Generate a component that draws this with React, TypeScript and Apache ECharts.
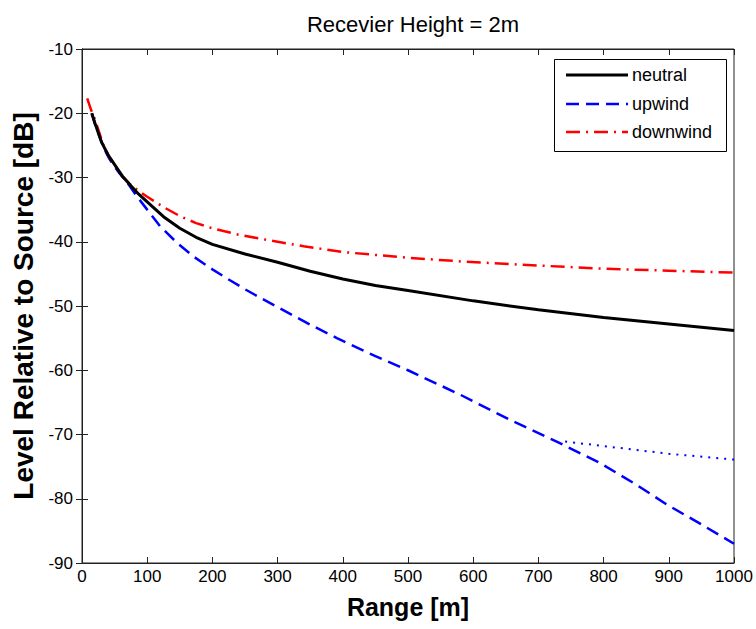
import React, { useEffect, useRef } from "react";
import * as echarts from "echarts";

const titleText = "Recevier Height = 2m";
const xTicks = [0, 100, 200, 300, 400, 500, 600, 700, 800, 900, 1000];
const yTicks = [-90, -80, -70, -60, -50, -40, -30, -20, -10];

const neutralRange = [15, 20, 30, 40, 50, 62, 75, 87, 100, 125, 150, 175, 200, 250, 300, 350, 400, 450, 500, 600, 700, 800, 900, 1000];
const neutralLevel = [-20, -21.6, -24.5, -26.5, -28, -29.8, -31.3, -32.6, -33.8, -36.1, -37.9, -39.3, -40.4, -41.9, -43.2, -44.6, -45.8, -46.8, -47.6, -49.2, -50.6, -51.8, -52.8, -53.8];

const upwindRange = [15, 20, 33, 42, 50, 58, 68, 84, 100, 120, 145, 171, 200, 227, 250, 273, 304, 350, 391, 450, 500, 580, 656, 728, 794, 850, 897, 950, 1000];
const upwindLevel = [-20, -21.7, -25.3, -27.1, -28.3, -29.4, -30.6, -32.9, -35, -37.6, -40.1, -42.3, -44.3, -46, -47.4, -48.7, -50.4, -52.9, -55, -57.8, -60, -63.8, -67.7, -71.1, -74.4, -77.8, -80.9, -84, -87];

const downwindRange = [8, 14, 20, 33, 42, 50, 60, 73, 87, 100, 125, 150, 175, 200, 240, 283, 340, 400, 500, 587, 700, 800, 900, 1000];
const downwindLevel = [-17.7, -19.5, -21, -25, -26.8, -28, -29.6, -31, -32.1, -33, -34.6, -36, -37.1, -37.9, -38.9, -39.7, -40.7, -41.6, -42.5, -43.1, -43.7, -44.2, -44.5, -44.8];

const upwindAltRange = [741, 800, 900, 1000];
const upwindAltLevel = [-71.1, -71.8, -73, -73.9];

const seriesNames = ["neutral", "upwind", "downwind"];
const seriesColors = ["#000000", "#0000ff", "#ff0000"];
const seriesWidths = [3, 2.5, 2.5];
const seriesDashes: (number[] | null)[] = [null, [13, 7], [14, 6, 2, 6]];

const zip = (xs: number[], ys: number[]) => xs.map((x, i) => [x, ys[i]]);

export default function App() {
  const ref = useRef<HTMLDivElement>(null);
  useEffect(() => {
    if (!ref.current) return;
    const chart = echarts.init(ref.current, undefined, { renderer: "svg" });
    const font = "'Liberation Sans', Arial, sans-serif";
    const tickLabel = { color: "#000", fontSize: 17, fontFamily: font };
    const axisColor = "#222";

    const legendX = 554, legendY = 59, legendW = 172, legendH = 92;
    const rowYs = [75, 104, 132];
    const legendGraphics: any[] = [
      {
        type: "rect",
        shape: { x: legendX + 0.5, y: legendY + 0.5, width: legendW, height: legendH },
        style: { fill: "#fff", stroke: "#000", lineWidth: 1 },
        z: 100,
      },
    ];
    seriesNames.forEach((name, i) => {
      legendGraphics.push({
        type: "line",
        shape: { x1: 566, y1: rowYs[i], x2: 628, y2: rowYs[i] },
        style: {
          stroke: seriesColors[i],
          lineWidth: seriesWidths[i],
          lineDash: seriesDashes[i] || undefined,
        },
        z: 101,
      });
      legendGraphics.push({
        type: "text",
        x: 632,
        y: rowYs[i],
        style: {
          text: name,
          fill: "#000",
          fontSize: 18,
          fontFamily: font,
          verticalAlign: "middle",
          align: "left",
        },
        z: 101,
      });
    });

    const mainSeries = seriesNames.map((name, i) => {
      const xs = [neutralRange, upwindRange, downwindRange][i];
      const ys = [neutralLevel, upwindLevel, downwindLevel][i];
      return {
        name,
        type: "line",
        data: zip(xs, ys),
        showSymbol: false,
        symbol: "none",
        color: seriesColors[i],
        lineStyle: { color: seriesColors[i], width: seriesWidths[i], type: seriesDashes[i] || "solid" },
        z: i === 0 ? 3 : 2,
      };
    });

    chart.setOption({
      animation: false,
      backgroundColor: "#fff",
      title: {
        text: titleText,
        left: 408,
        top: 8,
        textAlign: "center",
        textStyle: { fontSize: 22, fontWeight: "normal", color: "#000", fontFamily: font },
      },
      grid: { left: 82, right: 22, top: 49, bottom: 66, show: true, borderColor: axisColor, borderWidth: 1 },
      graphic: legendGraphics,
      xAxis: [
        {
          type: "value",
          min: 0,
          max: 1000,
          interval: 100,
          name: "Range [m]",
          nameLocation: "middle",
          nameGap: 31,
          nameTextStyle: { fontSize: 25, fontWeight: "bold", color: "#000", fontFamily: font },
          axisLine: { show: true, onZero: false, lineStyle: { color: axisColor } },
          axisTick: { show: true, inside: true, length: 6, lineStyle: { color: axisColor } },
          axisLabel: { ...tickLabel, margin: 5, formatter: (v: number) => String(v) },
          splitLine: { show: false },
        },
        {
          type: "value",
          position: "top",
          min: 0,
          max: 1000,
          interval: 100,
          axisLine: { show: true, lineStyle: { color: axisColor } },
          axisTick: { show: true, inside: true, length: 6, lineStyle: { color: axisColor } },
          axisLabel: { show: false },
          splitLine: { show: false },
        },
      ],
      yAxis: [
        {
          type: "value",
          min: -90,
          max: -10,
          interval: 10,
          name: "Level Relative to Source [dB]",
          nameLocation: "middle",
          nameGap: 41,
          nameTextStyle: { fontSize: 28, fontWeight: "bold", color: "#000", fontFamily: font },
          axisLine: { show: true, onZero: false, lineStyle: { color: axisColor } },
          axisTick: { show: true, inside: true, length: 6, lineStyle: { color: axisColor } },
          axisLabel: { ...tickLabel, margin: 9 },
          splitLine: { show: false },
        },
        {
          type: "value",
          position: "right",
          min: -90,
          max: -10,
          interval: 10,
          axisLine: { show: true, lineStyle: { color: axisColor } },
          axisTick: { show: true, inside: true, length: 6, lineStyle: { color: axisColor } },
          axisLabel: { show: false },
          splitLine: { show: false },
        },
      ],
      series: [
        ...mainSeries,
        {
          name: "upwind-alt",
          type: "line",
          data: zip(upwindAltRange, upwindAltLevel),
          showSymbol: false,
          symbol: "none",
          color: "#0000ff",
          lineStyle: { color: "#0000ff", width: 2, type: [2, 6] },
          z: 2,
        },
      ],
    });
    return () => chart.dispose();
  }, []);
  return <div ref={ref} style={{ position: "fixed", left: 0, top: 0, width: 756, height: 629 }} />;
}
